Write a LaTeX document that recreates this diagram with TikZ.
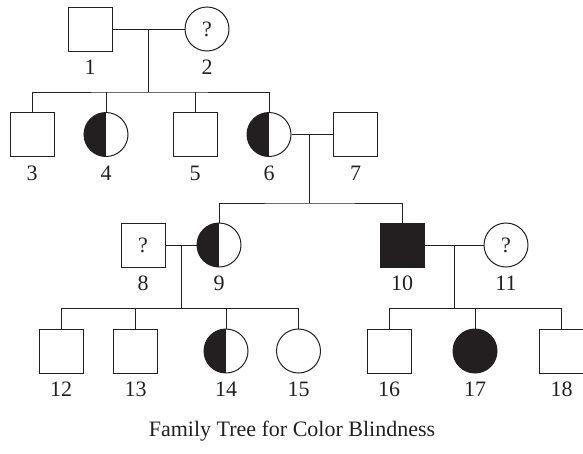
\documentclass[tikz,border=0pt]{standalone}
\usepackage{fontspec}
\setmainfont{Liberation Serif}
\usetikzlibrary{calc}
\definecolor{ink}{HTML}{231F20}
\begin{document}
\begin{tikzpicture}[x=1pt,y=-1pt,
  every node/.style={font=\fontsize{22}{26}\selectfont, text=ink},
  male/.style={draw=ink, rectangle, minimum size=44pt, inner sep=0pt, line width=1pt},
  female/.style={draw=ink, circle, minimum size=44pt, inner sep=0pt, line width=1pt},
  carrier/.style={path picture={\fill[ink] (path picture bounding box.north) rectangle (path picture bounding box.south west);}},
  affected/.style={fill=ink},
  lbl/.style={label={[label distance=8.5pt, inner sep=0pt]below:#1}},
  link/.style={draw=ink, line width=1pt}]
\useasboundingbox (0,0) rectangle (583,453);
% generation I
\node[male, lbl=1] (n1) at (90,29) {};
\node[female, lbl=2] (n2) at (207,29) {?};
% generation II
\node[male, lbl=3] (n3) at (32,134.5) {};
\node[female, carrier, lbl=4] (n4) at (106,134.5) {};
\node[male, lbl=5] (n5) at (195,134.5) {};
\node[female, carrier, lbl=6] (n6) at (269,134.5) {};
\node[male, lbl=7] (n7) at (355.5,134.5) {};
% generation III
\node[male, lbl=8] (n8) at (143,245) {?};
\node[female, carrier, lbl=9] (n9) at (219,245) {};
\node[male, affected, lbl=10] (n10) at (402,245) {};
\node[female, lbl=11] (n11) at (506,245) {?};
% generation IV
\node[male, lbl=12] (n12) at (61,351) {};
\node[male, lbl=13] (n13) at (135.5,351) {};
\node[female, carrier, lbl=14] (n14) at (226,351) {};
\node[female, lbl=15] (n15) at (298.5,351) {};
\node[male, lbl=16] (n16) at (389,351) {};
\node[female, affected, lbl=17] (n17) at (475,351) {};
\node[male, lbl=18] (n18) at (561.5,351) {};
% caption
\node (cap) at (292,431) {Family Tree for Color Blindness};
% couples and sibships
\coordinate (m1) at ($(n1.east)!0.5!(n2.west)$);
\coordinate (s1) at (m1 |- 0,92);
\draw[link] (n1) -- (n2);
\draw[link] (m1) -- (s1);
\draw[link] (n3.north) |- (s1) -| (n6.north);
\draw[link] (n4.north) -- (n4.north |- s1);
\draw[link] (n5.north) -- (n5.north |- s1);

\coordinate (m2) at (309,134.5);
\coordinate (s2) at (m2 |- 0,203);
\draw[link] (n6) -- (n7);
\draw[link] (m2) -- (s2);
\draw[link] (n9.north) |- (s2) -| (n10.north);

\coordinate (m3) at ($(n8.east)!0.5!(n9.west)$);
\coordinate (s3) at (m3 |- 0,308.5);
\draw[link] (n8) -- (n9);
\draw[link] (m3) -- (s3);
\draw[link] (n12.north) |- (s3) -| (n15.north);
\draw[link] (n13.north) -- (n13.north |- s3);
\draw[link] (n14.north) -- (n14.north |- s3);

\coordinate (m4) at ($(n10.east)!0.5!(n11.west)$);
\coordinate (s4) at (m4 |- 0,308.5);
\draw[link] (n10) -- (n11);
\draw[link] (m4) -- (s4);
\draw[link] (n16.north) |- (s4) -| (n18.north);
\draw[link] (n17.north) -- (n17.north |- s4);
\end{tikzpicture}
\end{document}
